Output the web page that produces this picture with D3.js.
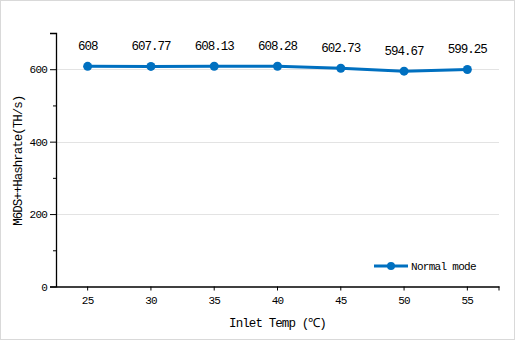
<!DOCTYPE html>
<html>
<head>
<meta charset="utf-8">
<script src="https://cdn.jsdelivr.net/npm/d3@7"></script>
<style>
  html, body { margin: 0; padding: 0; background: #fff; }
  svg { display: block; }
  text { font-family: "Liberation Mono", "DejaVu Sans Mono", monospace; fill: #000; }
</style>
</head>
<body>
<svg id="chart" width="515" height="340"></svg>
<script>
// Inlet temperature categories and measured hashrate (TH/s)
const temps = ["25", "30", "35", "40", "45", "50", "55"];
const hashrate = [608, 607.77, 608.13, 608.28, 602.73, 594.67, 599.25];
const valueLabels = ["608", "607.77", "608.13", "608.28", "602.73", "594.67", "599.25"];
const majorTicks = [0, 200, 400, 600];
const minorTicks = [100, 300, 500, 700];
const seriesName = "Normal mode";
const xTitle = "Inlet Temp (℃)";
const yTitle = "M6DS++Hashrate(TH/s)";

const W = 515, H = 340;
const plot = { left: 56, right: 499, top: 33, bottom: 286.5 };
const blue = "#0070C0";

const svg = d3.select("#chart");

// outer frame
svg.append("rect")
  .attr("x", 0.5).attr("y", 0.5)
  .attr("width", W - 1).attr("height", H - 1)
  .attr("fill", "#fff").attr("stroke", "#d9d9d9");

const x = d3.scaleBand().domain(temps).range([plot.left, plot.right]);
const y = d3.scaleLinear().domain([0, 700]).range([plot.bottom, plot.top]);

// horizontal gridlines
svg.append("g")
  .selectAll("line")
  .data(majorTicks.filter(d => d > 0))
  .join("line")
  .attr("x1", plot.left).attr("x2", plot.right)
  .attr("y1", d => Math.round(y(d)) + 0.5).attr("y2", d => Math.round(y(d)) + 0.5)
  .attr("stroke", "#e3e3e3").attr("stroke-width", 1);

// y axis: major ticks with labels, minor ticks without
const yAxis = svg.append("g")
  .attr("transform", `translate(${plot.left},0)`)
  .call(d3.axisLeft(y).tickValues(majorTicks).tickSize(6).tickPadding(3).tickFormat(d3.format("d")));
yAxis.select(".domain").attr("stroke", "#000").attr("stroke-width", 1.3);
yAxis.selectAll(".tick line").attr("stroke", "#000");
yAxis.selectAll(".tick text").style("font-size", "11px").style("letter-spacing", "-0.8px");

const yMinor = svg.append("g")
  .attr("transform", `translate(${plot.left},0)`)
  .call(d3.axisLeft(y).tickValues(minorTicks).tickSize(3).tickFormat(""));
yMinor.select(".domain").remove();
yMinor.selectAll(".tick line").attr("stroke", "#000");

// x axis: ticks at category centres, plus one closing tick at the right end
const xAxis = svg.append("g")
  .attr("transform", `translate(0,${plot.bottom})`)
  .call(d3.axisBottom(x).tickSizeInner(4).tickSizeOuter(0).tickPadding(6));
xAxis.select(".domain").attr("stroke", "#000").attr("stroke-width", 1.3);
xAxis.selectAll(".tick line").attr("stroke", "#000");
xAxis.selectAll(".tick text").style("font-size", "11px").style("letter-spacing", "-0.8px");
xAxis.append("line")
  .attr("x1", plot.right).attr("x2", plot.right)
  .attr("y1", 0).attr("y2", 4)
  .attr("stroke", "#000");

const cx = d => x(d) + x.bandwidth() / 2;

// series line
const pts = temps.map((t, i) => ({ t, v: hashrate[i], label: valueLabels[i] }));
svg.append("path")
  .datum(pts)
  .attr("fill", "none")
  .attr("stroke", blue)
  .attr("stroke-width", 3)
  .attr("d", d3.line().x(d => cx(d.t)).y(d => y(d.v)));

// markers
svg.append("g")
  .selectAll("circle")
  .data(pts)
  .join("circle")
  .attr("cx", d => cx(d.t)).attr("cy", d => y(d.v))
  .attr("r", 4.5)
  .attr("fill", blue);

// value labels
svg.append("g")
  .selectAll("text")
  .data(pts)
  .join("text")
  .attr("x", d => cx(d.t)).attr("y", d => y(d.v) - 16)
  .attr("text-anchor", "middle")
  .style("font-size", "12.5px")
  .style("letter-spacing", "-1px")
  .text(d => d.label);

// axis titles
svg.append("text")
  .attr("x", (plot.left + plot.right) / 2).attr("y", 327)
  .attr("text-anchor", "middle")
  .style("font-size", "12.5px")
  .style("letter-spacing", "-0.9px")
  .text(xTitle);

svg.append("text")
  .attr("transform", `translate(22,${(plot.top + plot.bottom) / 2 + 1}) rotate(-90)`)
  .attr("text-anchor", "middle")
  .style("font-size", "12.5px")
  .style("letter-spacing", "-1px")
  .text(yTitle);

// legend
const lg = svg.append("g").attr("transform", "translate(374,266)");
lg.append("line").attr("x1", 0).attr("x2", 34).attr("y1", 0).attr("y2", 0)
  .attr("stroke", blue).attr("stroke-width", 3);
lg.append("circle").attr("cx", 17).attr("cy", 0).attr("r", 4).attr("fill", blue);
lg.append("text").attr("x", 37).attr("y", 4)
  .style("font-size", "11px")
  .style("letter-spacing", "-0.7px")
  .text(seriesName);
</script>
</body>
</html>
